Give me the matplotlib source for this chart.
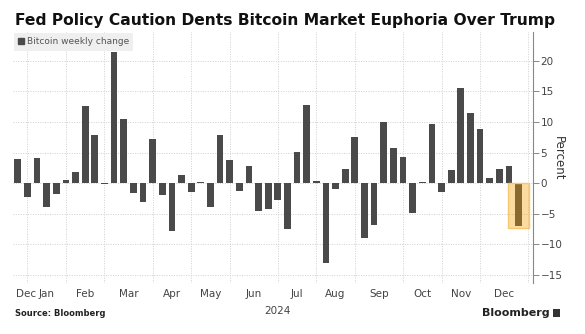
import numpy as np
import pandas as pd
import matplotlib
matplotlib.use("Agg")
import matplotlib.pyplot as plt
from matplotlib.patches import Rectangle, Patch

# weekly bitcoin change, weeks ending Sunday (Dec 31 2023 .. Dec 29 2024)
weeks = pd.date_range("2023-12-31", periods=53, freq="W-SUN")
weekly_change = [4.0, -2.3, 4.1, -3.9, -1.7, 0.5, 1.85, 12.6, 7.8, -0.1,
                 21.4, 10.5, -1.6, -3.1, 7.2, -2.0, -7.8, 1.3, -1.5, 0.15,
                 -3.9, 7.9, 3.8, -1.3, 2.8, -4.6, -4.2, -2.8, -7.5, 5.1,
                 12.7, 0.3, -13.0, -1.0, 2.3, 7.5, -9.0, -6.9, 10.0, 5.7,
                 4.2, -4.8, 0.15, 9.6, -1.4, 2.2, 15.6, 11.5, 8.9, 0.8,
                 2.3, 2.8, -7.0]
y_ticks = [-15, -10, -5, 0, 5, 10, 15, 20]
highlight_week = 52

bar_color = "#4a4a4a"
grid_color = "#cfcfcf"
text_color = "#444444"

x = np.arange(len(weeks))

# first week of every month -> grid lines, month name in the middle
starts = [i for i in range(1, len(weeks)) if weeks[i].month != weeks[i - 1].month]
starts.append(len(weeks))
mids = [0.9] + [(a + b) / 2 for a, b in zip(starts[:-1], starts[1:])]
names = ["Dec"] + [weeks[i].strftime("%b") for i in starts[:-1]]

fig = plt.figure(figsize=(5.85, 3.34), dpi=100)
ax = fig.add_axes([13 / 585, 1 - 283 / 334, 520 / 585, 251 / 334])

ax.bar(x, weekly_change, width=0.7, color=bar_color, zorder=2)

# highlight latest week
ax.add_patch(Rectangle((highlight_week - 1.05, -7.3), 2.15, 7.4,
                       facecolor="#f99f00", alpha=0.37, edgecolor="none", zorder=3))
ax.add_patch(Rectangle((highlight_week - 1.05, -7.3), 2.15, 7.4,
                       facecolor="none", edgecolor="#f8c870", lw=1.0, zorder=3))

ax.set_xlim(-0.5, 53.5)
ax.set_ylim(-16.3, 24.7)

ax.set_xticks(mids, names)
ax.set_xticks(starts, minor=True)
ax.tick_params(axis="x", which="both", length=0, pad=4, labelsize=7.5, labelcolor=text_color)
ax.grid(which="minor", axis="x", color=grid_color, linestyle=(0, (1, 1.5)), lw=0.7, zorder=0)

ax.yaxis.tick_right()
ax.set_yticks(y_ticks)
ax.tick_params(axis="y", length=4, width=0.7, color="#888888", pad=1.5,
               labelsize=7.5, labelcolor=text_color)
ax.grid(which="major", axis="y", color=grid_color, linestyle=(0, (1, 1.5)), lw=0.7, zorder=0)

for s in ["left", "top", "bottom"]:
    ax.spines[s].set_visible(False)
ax.spines["right"].set_color("#888888")
ax.spines["right"].set_linewidth(0.8)

ax.annotate("2024", xy=(27, 0), xycoords=("data", "axes fraction"), xytext=(0, -20),
            textcoords="offset points", ha="center", va="center", fontsize=7.5, color=text_color)

leg = ax.legend(handles=[Patch(color=bar_color, label="Bitcoin weekly change")],
                loc="upper left", bbox_to_anchor=(0, 1), borderaxespad=0.1,
                fontsize=6.5, handlelength=0.6, handleheight=0.6, handletextpad=0.3,
                frameon=True, fancybox=False, borderpad=0.5, labelcolor="#555555")
leg.get_frame().set_facecolor("#efefef")
leg.get_frame().set_edgecolor("none")
leg.get_frame().set_alpha(1)

fig.text(0.955, 1 - 158 / 334, "Percent", rotation=270, ha="center", va="center",
         fontsize=8.5, color="#333333")

fig.text(15 / 585, 1 - 20 / 334, "Fed Policy Caution Dents Bitcoin Market Euphoria Over Trump",
         fontsize=11.2, fontweight="bold", ha="left", va="center", color="#111111")

fig.text(15 / 585, 1 - 314 / 334, "Source: Bloomberg", fontsize=6, fontweight="bold",
         ha="left", va="center", color="#222222")
fig.text(550 / 585, 1 - 313 / 334, "Bloomberg", fontsize=8, fontweight="bold",
         ha="right", va="center", color="#222222")
fig.patches.append(Rectangle((553 / 585, 1 - 317 / 334), 7 / 585, 8 / 334,
                             transform=fig.transFigure, facecolor="#333333", edgecolor="none"))

fig.savefig("out.png", dpi=100)
